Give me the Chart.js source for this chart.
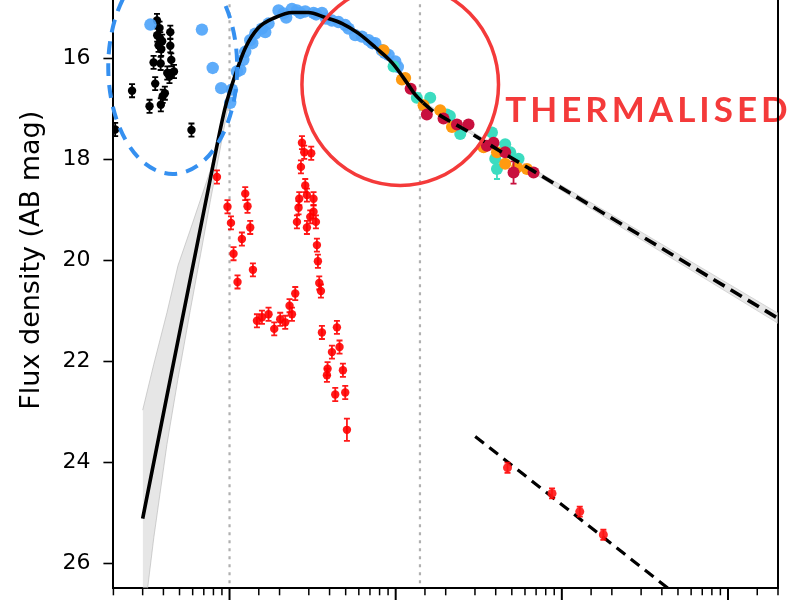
<!DOCTYPE html>
<html><head><meta charset="utf-8">
<script src="https://cdn.jsdelivr.net/npm/chart.js@4.4.1/dist/chart.umd.min.js"></script>
<style>
html,body{margin:0;padding:0;background:#fff;overflow:hidden}
#wrap{position:relative;width:800px;height:600px;overflow:hidden;background:#fff}
#c{position:absolute;left:0;top:-74px}
</style></head><body>
<div id="wrap"><canvas id="c" width="800" height="674"></canvas></div>
<script>
// ---------- data (time in days, AB magnitudes) ----------
const yTickValues = [14, 16, 18, 20, 22, 24, 26];
const vlineT = [1, 14];

const modelT = [0.30, 0.82, 0.942, 1.082, 1.243, 1.488, 1.884, 2.385, 2.977, 3.767, 4.77, 5.95, 7.53, 9.53, 11.9, 13.1, 14.65];
const modelM = [25.12, 17.90, 16.97, 16.33, 15.80, 15.40, 15.19, 15.09, 15.09, 15.19, 15.31, 15.50, 15.78, 16.09, 16.52, 16.72, 16.88];
const modelDashT = [14.65, 16.8, 21.3, 26.97, 42.6, 67.3, 2000];
const modelDashM = [16.88, 17.05, 17.25, 17.44, 17.84, 18.23, 21.15];

const bandT = [0.30, 0.35, 0.42, 0.49, 0.58, 0.67, 0.77, 0.88, 1.0, 1.1];
const bandUpper = [22.97, 22.06, 21.04, 20.10, 19.40, 18.79, 18.20, 17.40, 16.60, 16.22];
const bandLower = [27.30, 25.50, 23.65, 22.34, 21.00, 19.88, 18.79, 17.78, 16.80, 16.32];
const lateBandT = [14.65, 67.3, 300, 2000];
const lateBandUpper = [16.86, 18.19, 19.44, 21.05];
const lateBandLower = [16.90, 18.27, 19.59, 21.25];

const lateLineT = [30.1, 600];
const lateLineM = [23.49, 26.86];
const lateRedT = [47.1, 87.3, 128.2, 177.8];
const lateRedM = [24.11, 24.62, 24.98, 25.44];
const lateRedErr = [0.1, 0.1, 0.1, 0.1];

const blackT = [0.366, 0.379, 0.383, 0.374, 0.388, 0.440, 0.440, 0.349, 0.385, 0.446, 0.422, 0.463, 0.435, 0.357, 0.408, 0.396, 0.259, 0.330, 0.386, 0.590, 0.205, 0.393, 0.367];
const blackM = [15.25, 15.40, 15.61, 15.74, 15.82, 15.48, 15.75, 16.08, 16.10, 16.03, 16.29, 16.26, 16.36, 16.50, 16.69, 16.75, 16.64, 16.95, 16.92, 17.42, 17.41, 15.66, 15.54];
const blackErr = [0.13, 0.13, 0.13, 0.13, 0.13, 0.13, 0.13, 0.13, 0.13, 0.13, 0.13, 0.13, 0.13, 0.13, 0.13, 0.13, 0.13, 0.13, 0.13, 0.13, 0.13, 0.13, 0.13];

const blueT = [0.334, 0.682, 0.792, 0.891, 1.01, 1.034, 1.108, 1.16, 1.21, 1.243, 1.332, 1.37, 1.428, 1.567, 1.64, 1.717, 1.972, 2.113, 2.193, 2.375, 2.545, 2.663, 2.855, 3.203, 3.32, 3.598, 3.81, 4.134, 4.53, 4.97, 5.203, 5.708, 6.266, 6.866, 7.24, 7.53, 8.265, 8.6, 9.057, 9.94, 10.3];
const blueM = [15.33, 15.43, 16.19, 16.59, 16.88, 16.62, 16.26, 16.23, 16.03, 15.87, 15.64, 15.70, 15.51, 15.41, 15.48, 15.31, 15.05, 15.11, 15.19, 15.02, 15.05, 15.10, 15.07, 15.10, 15.13, 15.10, 15.21, 15.25, 15.28, 15.34, 15.41, 15.54, 15.57, 15.64, 15.70, 15.70, 15.84, 15.89, 15.93, 16.06, 16.17];

const redT = [0.840, 0.972, 1.02, 1.243, 1.283, 1.332, 1.187, 1.057, 1.117, 1.383, 2.486, 2.297, 2.375, 1.462, 1.567, 1.717, 1.858, 2.019, 2.164, 2.728, 2.816, 3.102, 2.690, 2.855, 2.628, 2.923, 3.203, 2.602, 3.203, 3.060, 2.545, 2.923, 3.311, 3.357, 3.404, 3.467, 3.549, 3.598, 4.430, 4.592, 4.134, 3.890, 4.814, 4.327, 4.970, 5.088, 3.857];
const redM = [18.35, 18.94, 19.26, 18.68, 18.93, 19.35, 19.58, 19.87, 20.43, 20.19, 20.66, 20.90, 21.07, 21.20, 21.13, 21.07, 21.36, 21.17, 21.23, 17.67, 17.86, 17.88, 18.15, 18.52, 18.78, 18.71, 18.78, 18.96, 19.04, 19.14, 19.24, 19.35, 19.24, 19.70, 20.02, 20.45, 20.61, 21.43, 21.33, 21.72, 21.82, 22.15, 22.18, 22.66, 22.62, 23.36, 22.28];
const redErr = [0.13, 0.13, 0.13, 0.13, 0.13, 0.13, 0.13, 0.13, 0.13, 0.13, 0.13, 0.13, 0.13, 0.13, 0.13, 0.13, 0.13, 0.13, 0.13, 0.13, 0.13, 0.13, 0.13, 0.13, 0.13, 0.13, 0.13, 0.13, 0.13, 0.13, 0.13, 0.13, 0.13, 0.13, 0.13, 0.13, 0.13, 0.13, 0.13, 0.13, 0.13, 0.13, 0.13, 0.13, 0.13, 0.22, 0.13];

const tealT = [9.71, 13.4, 16.14, 20.35, 21.2, 24.47, 37.97, 39.73, 45.6, 48.9, 54.9, 40.7];
const tealM = [16.16, 16.78, 16.78, 17.11, 17.14, 17.50, 17.47, 17.99, 17.70, 17.86, 17.99, 18.19];
const tealErr = [0.05, 0.05, 0.05, 0.05, 0.05, 0.05, 0.05, 0.05, 0.05, 0.05, 0.05, 0.2];
const orangeT = [8.45, 10.9, 11.41, 14.71, 18.54, 21.81, 33.8, 40.7, 45.6, 53.7, 61.7];
const orangeM = [15.84, 16.42, 16.39, 16.93, 17.03, 17.36, 17.76, 17.86, 18.09, 18.16, 18.19];
const crimsonT = [12.3, 15.4, 19.41, 23.37, 27.44, 35.4, 38.8, 45.6, 51.2, 67.6];
const crimsonM = [16.60, 17.11, 17.19, 17.31, 17.31, 17.73, 17.67, 17.86, 18.26, 18.26];
const crimsonErr = [0.05, 0.05, 0.05, 0.05, 0.05, 0.05, 0.05, 0.05, 0.22, 0.05];

// ---------- helpers ----------
const pts = (ts, ms) => ts.map((t, i) => ({x: t, y: ms[i]}));
const vline = t => [{x: t, y: 13.5}, {x: t, y: 26.5}];
const isMajor = v => Math.abs(Math.log10(v) - Math.round(Math.log10(v))) < 1e-6;

const errorBars = {
  id: 'errorBars',
  beforeDatasetDraw(chart, args) {
    const ds = chart.data.datasets[args.index];
    if (!ds.yErr) return;
    const ctx = chart.ctx, xs = chart.scales.x, ys = chart.scales.y;
    ctx.save();
    ctx.strokeStyle = ds.errColor;
    ctx.lineWidth = 1.8;
    ds.data.forEach((p, i) => {
      const e = ds.yErr[i];
      const px = xs.getPixelForValue(p.x);
      const y1 = ys.getPixelForValue(p.y - e), y2 = ys.getPixelForValue(p.y + e);
      ctx.beginPath();
      ctx.moveTo(px, y1); ctx.lineTo(px, y2);
      ctx.moveTo(px - 3, y1); ctx.lineTo(px + 3, y1);
      ctx.moveTo(px - 3, y2); ctx.lineTo(px + 3, y2);
      ctx.stroke();
    });
    ctx.restore();
  }
};

const annotations = {
  id: 'annot',
  beforeDraw(chart) {
    const ctx = chart.ctx, xs = chart.scales.x, ys = chart.scales.y;
    ctx.save();
    ctx.font = 'bold 35px Lato, "DejaVu Sans", sans-serif';
    try { ctx.letterSpacing = '4px'; } catch (e) {}
    ctx.fillStyle = '#f43a3a';
    ctx.textBaseline = 'alphabetic';
    ctx.textAlign = 'left';
    ctx.fillText('THERMALISED', xs.getPixelForValue(45.6), ys.getPixelForValue(17.27));
    ctx.restore();
  },
  afterDatasetsDraw(chart) {
    const ctx = chart.ctx, xs = chart.scales.x, ys = chart.scales.y;
    const ell = (t, m, dex, dm) => {
      const cx = xs.getPixelForValue(t), cy = ys.getPixelForValue(m);
      const rx = xs.getPixelForValue(t * Math.pow(10, dex)) - cx;
      const ry = Math.abs(ys.getPixelForValue(m + dm) - cy);
      ctx.beginPath();
      ctx.ellipse(cx, cy, rx, ry, 0, 0, Math.PI * 2);
      ctx.stroke();
    };
    ctx.save();
    ctx.strokeStyle = '#3590f0';
    ctx.lineWidth = 4;
    ctx.setLineDash([13, 9]);
    ell(0.455, 16.17, 0.388, 2.12);
    ctx.setLineDash([]);
    ctx.strokeStyle = '#f43a3a';
    ctx.lineWidth = 3.5;
    ell(10.65, 16.52, 0.5916, 2.0);
    ctx.restore();
  },
  afterDraw(chart) {
    const ctx = chart.ctx, xs = chart.scales.x;
    const yb = chart.chartArea.bottom;
    ctx.save();
    ctx.strokeStyle = '#000';
    xs.ticks.forEach(tk => {
      const px = xs.getPixelForValue(tk.value);
      const major = isMajor(tk.value);
      ctx.lineWidth = major ? 2 : 1.5;
      ctx.beginPath();
      ctx.moveTo(px, yb);
      ctx.lineTo(px, yb + (major ? 14 : 7));
      ctx.stroke();
    });
    ctx.restore();
  }
};

const noPad = s => { s.paddingTop = 0; s.paddingBottom = 0; s.paddingLeft = 0; s.paddingRight = 0; };

const datasets = [
  {data: pts(bandT, bandUpper), showLine: true, pointRadius: 0, borderColor: 'rgba(180,180,180,0.6)', borderWidth: 1, fill: false, order: 30},
  {data: pts(bandT, bandLower), showLine: true, pointRadius: 0, borderColor: 'rgba(180,180,180,0.6)', borderWidth: 1, fill: '-1', backgroundColor: 'rgba(210,210,210,0.55)', order: 30},
  {data: pts(lateBandT, lateBandUpper), showLine: true, pointRadius: 0, borderColor: 'rgba(200,200,200,0.7)', borderWidth: 1, fill: false, order: 29},
  {data: pts(lateBandT, lateBandLower), showLine: true, pointRadius: 0, borderColor: 'rgba(200,200,200,0.7)', borderWidth: 1, fill: '-1', backgroundColor: 'rgba(215,215,215,0.6)', order: 29},
  {data: vline(vlineT[0]), showLine: true, pointRadius: 0, borderColor: '#b0b0b0', borderWidth: 2.2, borderDash: [3, 5], order: 25},
  {data: vline(vlineT[1]), showLine: true, pointRadius: 0, borderColor: '#b0b0b0', borderWidth: 2.2, borderDash: [3, 5], order: 25},
  {data: pts(blackT, blackM), yErr: blackErr, errColor: '#000', pointRadius: 4.2, pointBackgroundColor: '#000', pointBorderWidth: 0, order: 12},
  {data: pts(redT, redM), yErr: redErr, errColor: 'rgba(255,0,0,0.9)', pointRadius: 4.2, pointBackgroundColor: 'rgba(255,0,0,0.9)', pointBorderWidth: 0, order: 12},
  {data: pts(blueT, blueM), pointRadius: 6.2, pointBackgroundColor: 'rgba(80,165,250,0.92)', pointBorderWidth: 0, order: 10},
  {data: pts(tealT, tealM), yErr: tealErr, errColor: '#3cdcc0', pointRadius: 6, pointBackgroundColor: '#3cdcc0', pointBorderWidth: 0, order: 9},
  {data: pts(orangeT, orangeM), pointRadius: 6, pointBackgroundColor: '#ff9a10', pointBorderWidth: 0, order: 8},
  {data: pts(crimsonT, crimsonM), yErr: crimsonErr, errColor: '#c8103e', pointRadius: 6, pointBackgroundColor: '#c8103e', pointBorderWidth: 0, order: 7},
  {data: pts(lateLineT, lateLineM), showLine: true, pointRadius: 0, borderColor: '#000', borderWidth: 3.2, borderDash: [11, 7], order: 6},
  {data: pts(lateRedT, lateRedM), yErr: lateRedErr, errColor: 'rgba(255,0,0,0.9)', pointRadius: 4.5, pointBackgroundColor: 'rgba(255,20,20,0.9)', pointBorderWidth: 0, order: 5},
  {data: pts(modelT, modelM), showLine: true, pointRadius: 0, borderColor: '#000', borderWidth: 3.6, cubicInterpolationMode: 'monotone', order: 3},
  {data: pts(modelDashT, modelDashM), showLine: true, pointRadius: 0, borderColor: '#000', borderWidth: 3.6, borderDash: [13, 7], order: 2}
];

new Chart(document.getElementById('c'), {
  type: 'scatter',
  data: {datasets},
  plugins: [errorBars, annotations],
  options: {
    responsive: false,
    animation: false,
    devicePixelRatio: 1,
    layout: {padding: 0},
    plugins: {legend: {display: false}, tooltip: {enabled: false}},
    scales: {
      x: {
        type: 'logarithmic', min: 0.2, max: 2000, position: 'bottom',
        ticks: {display: false},
        grid: {display: true, drawOnChartArea: false, drawTicks: false},
        border: {display: true, color: '#000', width: 2},
        afterFit: s => { s.height = 11.7; noPad(s); }
      },
      y: {
        type: 'linear', min: 13.5, max: 26.5, reverse: true, position: 'left',
        afterBuildTicks: s => { s.ticks = yTickValues.map(v => ({value: v})); },
        ticks: {color: '#000', padding: 13, font: {family: 'DejaVu Sans', size: 22}},
        grid: {drawOnChartArea: false, drawTicks: true, tickLength: 10, tickColor: '#000', tickWidth: 1.6},
        border: {display: true, color: '#000', width: 2},
        title: {display: true, text: 'Flux density (AB mag)', color: '#000', font: {family: 'DejaVu Sans', size: 27}, padding: {top: 16, bottom: 0}},
        afterFit: s => { s.width = 113.4; noPad(s); }
      },
      y2: {
        type: 'linear', position: 'right', min: 0, max: 1,
        ticks: {display: false},
        grid: {drawOnChartArea: false, drawTicks: false},
        border: {display: true, color: '#000', width: 2},
        afterFit: s => { s.width = 22; noPad(s); }
      }
    }
  }
});
</script>
</body></html>
